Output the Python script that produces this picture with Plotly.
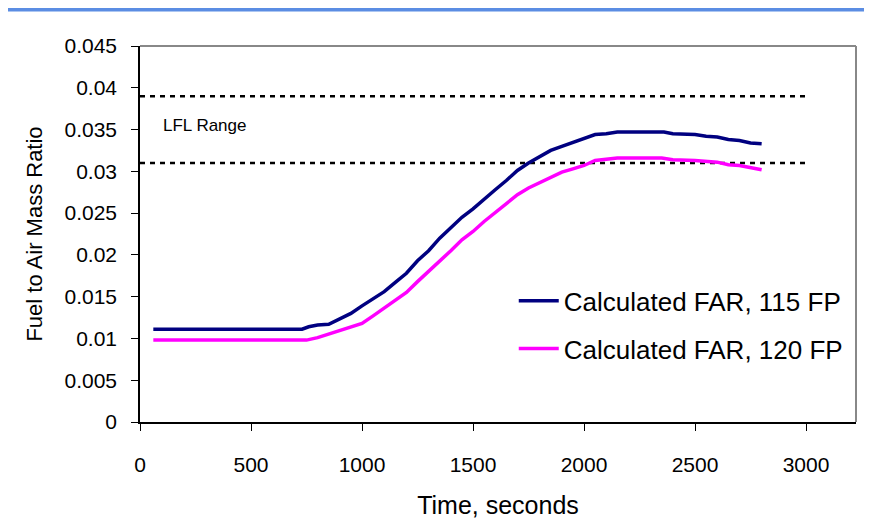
import plotly.graph_objects as go

# Time (s) and fuel-to-air mass ratio
time_115 = [60, 730, 760, 800, 850, 900, 950, 1000, 1050, 1100, 1150, 1200, 1250, 1300,
            1350, 1400, 1450, 1500, 1550, 1600, 1650, 1700, 1750, 1800, 1850, 1900, 1950,
            2000, 2050, 2100, 2150, 2200, 2300, 2360, 2400, 2500, 2550, 2600, 2650, 2700,
            2750, 2800]
far_115 = [0.0111, 0.0111, 0.0114, 0.0116, 0.0117, 0.0123, 0.0130, 0.0139, 0.0147, 0.0156,
           0.0167, 0.0178, 0.0193, 0.0205, 0.0220, 0.0232, 0.0245, 0.0255, 0.0267, 0.0278,
           0.0289, 0.0301, 0.0310, 0.0318, 0.0325, 0.0330, 0.0335, 0.0339, 0.0344, 0.0345,
           0.0347, 0.0347, 0.0347, 0.0347, 0.0345, 0.0344, 0.0342, 0.0341, 0.0338, 0.0337,
           0.0334, 0.0333]

time_120 = [60, 750, 800, 850, 900, 950, 1000, 1050, 1100, 1150, 1200, 1250, 1300, 1350,
            1400, 1450, 1500, 1550, 1600, 1650, 1700, 1750, 1800, 1850, 1900, 1950, 2000,
            2050, 2100, 2150, 2350, 2400, 2500, 2600, 2650, 2700, 2800]
far_120 = [0.0098, 0.0098, 0.0101, 0.0105, 0.0109, 0.0113, 0.0118, 0.0127, 0.0136, 0.0145,
           0.0155, 0.0168, 0.0180, 0.0192, 0.0205, 0.0218, 0.0228, 0.0240, 0.0251, 0.0262,
           0.0272, 0.0280, 0.0286, 0.0293, 0.0299, 0.0303, 0.0307, 0.0313, 0.0315, 0.0316,
           0.0316, 0.0314, 0.0313, 0.0311, 0.0308, 0.0307, 0.0302]

lfl_time = [0, 3000]
lfl_upper = [0.039, 0.039]
lfl_lower = [0.031, 0.031]

x_ticks = [0, 500, 1000, 1500, 2000, 2500, 3000]
y_ticks = [0, 0.005, 0.01, 0.015, 0.02, 0.025, 0.03, 0.035, 0.04, 0.045]

FONT = "Liberation Sans, Arial, sans-serif"

fig = go.Figure()
for y in (lfl_upper, lfl_lower):
    fig.add_scatter(x=lfl_time, y=y, mode="lines", showlegend=False, hoverinfo="skip",
                    line=dict(color="black", width=2.5, dash="5px,5px"))
fig.add_scatter(x=time_115, y=far_115, mode="lines", name="Calculated FAR, 115 FP",
                legendgroup="a", line=dict(color="#000080", width=3.5))
fig.add_scatter(x=time_120, y=far_120, mode="lines", name="Calculated FAR, 120 FP",
                legendgroup="b", line=dict(color="#FF00FF", width=3.5))

fig.add_annotation(x=95, y=0.0355, text="LFL Range", showarrow=False, xanchor="left",
                   font=dict(size=17, color="black", family=FONT))

# top-right grey frame of the plot area
fig.add_shape(type="line", xref="paper", yref="paper", x0=0, x1=1, y0=1, y1=1,
              line=dict(color="#888888", width=2))
fig.add_shape(type="line", xref="paper", yref="paper", x0=1, x1=1, y0=0, y1=1,
              line=dict(color="#888888", width=2))
# blue header band
fig.add_shape(type="rect", xref="paper", yref="paper", x0=-0.2, x1=1.05,
              y0=1.092, y1=1.102, fillcolor="#5b8de3", line=dict(width=0), layer="below")

fig.update_layout(
    width=872, height=526,
    margin=dict(l=132, r=24, t=38, b=112),
    paper_bgcolor="white", plot_bgcolor="white",
    font=dict(family=FONT, color="black", size=21),
    legend=dict(x=0.522, y=0.385, xanchor="left", yanchor="top",
                font=dict(size=26, family=FONT), tracegroupgap=11,
                bgcolor="rgba(0,0,0,0)", itemwidth=40),
    xaxis=dict(range=[0, 3225], tickvals=x_ticks, showgrid=False, zeroline=False,
               showline=True, linecolor="black", linewidth=1.5,
               ticks="outside", ticklen=7, tickcolor="black", ticklabelstandoff=16,
               title=dict(text="Time, seconds", font=dict(size=25), standoff=22)),
    yaxis=dict(range=[0, 0.045], tickvals=y_ticks, showgrid=False, zeroline=False,
               showline=True, linecolor="black", linewidth=1.5,
               ticks="outside", ticklen=7, tickcolor="black", ticklabelstandoff=10,
               title=dict(text="Fuel to Air Mass Ratio", font=dict(size=22), standoff=16)),
)

fig.write_html("out.html")
